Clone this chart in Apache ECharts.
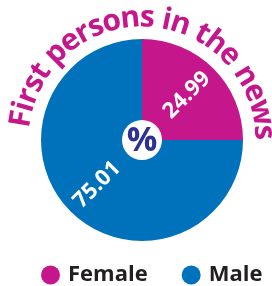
<!DOCTYPE html>
<html>
<head>
<meta charset="utf-8">
<script src="https://cdn.jsdelivr.net/npm/echarts@6/dist/echarts.min.js"></script>
<style>html,body{margin:0;padding:0;background:#fff}#c{width:272px;height:286px}</style>
</head>
<body>
<div id="c"></div>
<script>
const categories = ['Female', 'Male'];
const values = [24.99, 75.01];
const titleText = 'First persons in the news';
const centerText = '%';

const MAGENTA = '#c5168c';
const BLUE = '#0072bc';
const FONT = '"Open Sans", "DejaVu Sans", sans-serif';

const cx = 142, cy = 140;

// curved title along an arc
const titleSize = 30;
const ctx = document.createElement('canvas').getContext('2d');
ctx.font = '700 ' + titleSize + 'px ' + FONT;
const chars = titleText.split('');
const widths = chars.map(c => ctx.measureText(c).width * 0.9);
const total = widths.reduce((a, b) => a + b, 0);
const Rspace = 111;   // radius used for spacing
const Rmid = 122;     // radius where glyph middles sit
const centerAngle = 3 * Math.PI / 180;
const graphics = [];
let acc = -total / 2;
chars.forEach((ch, i) => {
  const s = acc + widths[i] / 2;
  acc += widths[i];
  if (ch === ' ') return;
  const th = centerAngle + s / Rspace;
  graphics.push({
    type: 'text',
    x: cx + Rmid * Math.sin(th),
    y: cy - Rmid * Math.cos(th),
    rotation: -th,
    style: {
      text: ch,
      fontSize: titleSize,
      fontWeight: 'bold',
      fontFamily: FONT,
      fill: MAGENTA,
      align: 'center',
      verticalAlign: 'middle'
    }
  });
});
graphics.push({
  type: 'text',
  x: cx,
  y: cy + 1,
  style: {
    text: centerText,
    fontSize: 34,
    fontWeight: 'bold',
    fontFamily: FONT,
    fill: '#2e3192',
    align: 'center',
    verticalAlign: 'middle'
  }
});

const chart = echarts.init(document.getElementById('c'), null, {renderer: 'canvas'});
chart.setOption({
  animation: false,
  color: [MAGENTA, BLUE],
  legend: {
    data: categories,
    left: 36,
    top: 259,
    width: 260,
    icon: 'circle',
    itemWidth: 19,
    itemHeight: 19,
    itemGap: 34,
    textStyle: {fontSize: 22, fontWeight: 'bold', color: '#231f20', fontFamily: FONT, padding: [0, 0, 0, 3]}
  },
  series: [{
    type: 'pie',
    center: [cx, cy],
    radius: [20, 101],
    startAngle: 90,
    clockwise: true,
    silent: true,
    label: {
      show: true,
      position: 'inside',
      formatter: '{c}',
      rotate: 45,
      color: '#fff',
      fontSize: 22,
      fontWeight: 'bold',
      fontFamily: FONT
    },
    labelLine: {show: false},
    data: categories.map((c, i) => ({name: c, value: values[i]}))
  }],
  graphic: graphics
});
</script>
</body>
</html>
